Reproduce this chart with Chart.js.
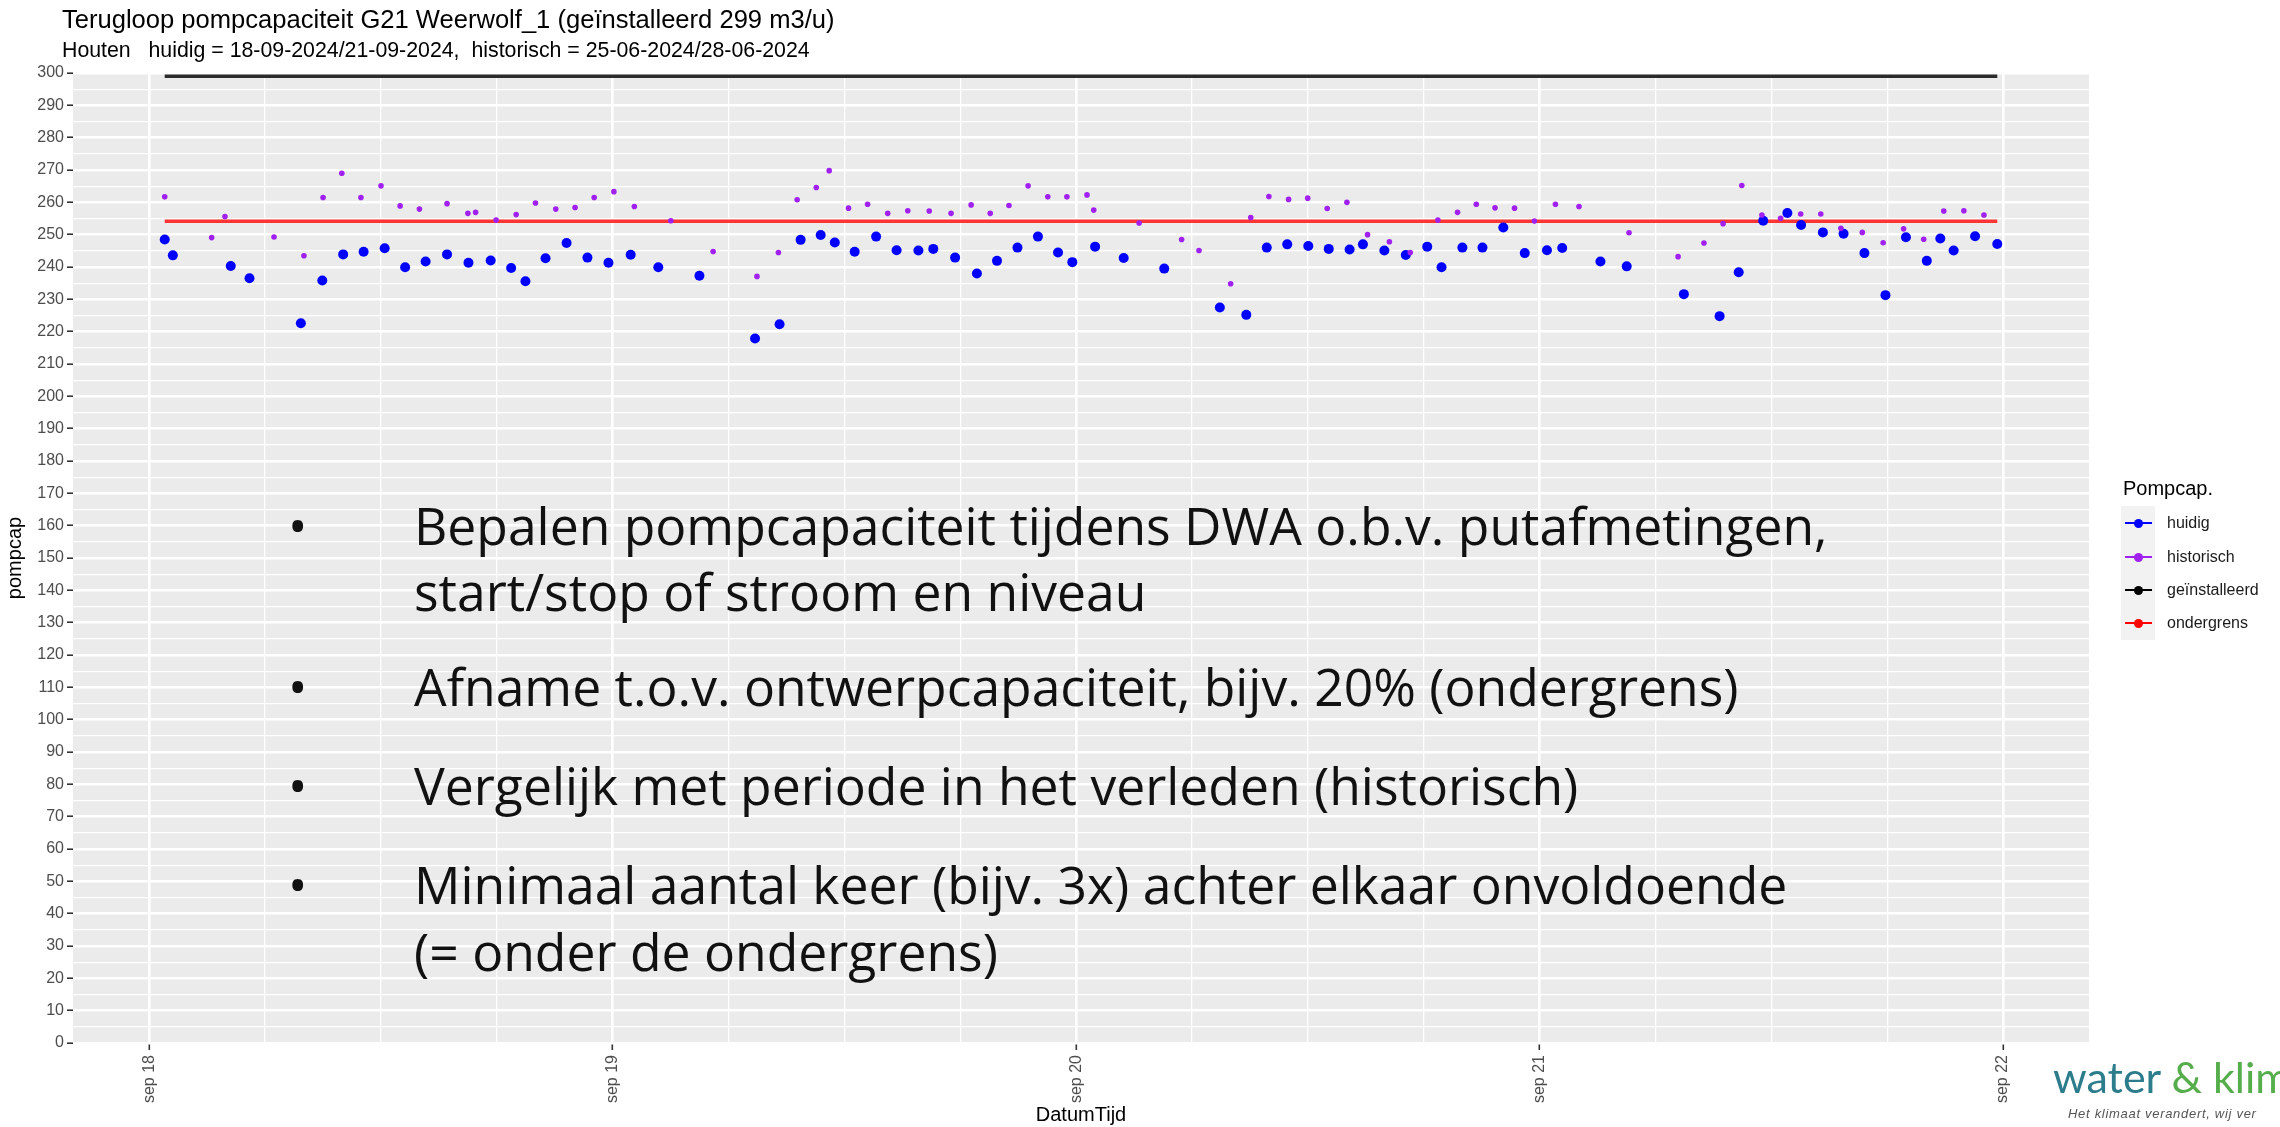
<!DOCTYPE html>
<html lang="nl">
<head>
<meta charset="utf-8">
<title>Terugloop pompcapaciteit G21 Weerwolf_1</title>
<script src="https://cdn.jsdelivr.net/npm/chart.js@4.4.1/dist/chart.umd.min.js"></script>
<style>
    html, body { margin: 0; padding: 0; background: #ffffff; overflow: hidden; }
    #pagina { position: relative; width: 2280px; height: 1127px; overflow: hidden;
              font-family: "Liberation Sans", Arial, sans-serif; }
    #grafiek { position: absolute; left: 0; top: 0; }
    .tekst { position: absolute; white-space: pre; color: #000; }
    #titel { left: 62px; top: 4px; font-size: 24px; line-height: 30px; }
    #ondertitel { left: 62px; top: 38px; font-size: 19px; line-height: 24px; }

    #legenda-titel { left: 2123px; top: 476px; font-size: 20px; line-height: 24px; }
    #legenda-sleutels { position: absolute; left: 2121px; top: 506px; width: 34px; height: 134px; background: #F2F2F2; }
    .sleutel-lijn { position: absolute; left: 2125px; width: 27px; height: 2px; }
    .sleutel-punt { position: absolute; left: 2134px; width: 9px; height: 9px; border-radius: 50%; }
    .legenda-label { left: 2167px; font-size: 16px; line-height: 20px; color: #1a1a1a; }

    #opsomming { position: absolute; left: 0; top: 0; font-family: "Open Sans", sans-serif; font-size: 46px; color: #111; }
    .regel { position: absolute; left: 414px; white-space: pre; line-height: 60px; }
    .bol { position: absolute; left: 288px; line-height: 60px; }

    #logo { left: 2053px; top: 1052px; font-family: Lato, sans-serif; font-size: 43px; line-height: 50px; }
    #logo .water { color: #2C7C8C; }
    #logo .klim { color: #56AD4B; }
    #slogan { left: 2068px; top: 1105px; font-size: 13px; line-height: 18px; font-style: italic;
              letter-spacing: 0.7px; color: #555; }
</style>
</head>
<body>
<div id="pagina">
    <canvas id="grafiek" width="2280" height="1127"></canvas>

    <div id="titel" class="tekst">Terugloop pompcapaciteit G21 Weerwolf_1 (geïnstalleerd 299 m3/u)</div>
    <div id="ondertitel" class="tekst">Houten   huidig = 18-09-2024/21-09-2024,  historisch = 25-06-2024/28-06-2024</div>

    <div id="legenda-titel" class="tekst">Pompcap.</div>
    <div id="legenda-sleutels"></div>
    <div id="legenda"></div>

    <div id="opsomming">
        <div class="bol" style="top:495px">•</div>
        <div class="regel" style="top:495px">Bepalen pompcapaciteit tijdens DWA o.b.v. putafmetingen,</div>
        <div class="regel" style="top:561px">start/stop of stroom en niveau</div>
        <div class="bol" style="top:656px">•</div>
        <div class="regel" style="top:656px">Afname t.o.v. ontwerpcapaciteit, bijv. 20% (ondergrens)</div>
        <div class="bol" style="top:755px">•</div>
        <div class="regel" style="top:755px">Vergelijk met periode in het verleden (historisch)</div>
        <div class="bol" style="top:854px">•</div>
        <div class="regel" style="top:854px">Minimaal aantal keer (bijv. 3x) achter elkaar onvoldoende</div>
        <div class="regel" style="top:921px">(= onder de ondergrens)</div>
    </div>

    <div id="logo" class="tekst"><span class="water">water</span> <span class="klim">&amp; klim</span></div>
    <div id="slogan" class="tekst">Het klimaat verandert, wij ver</div>
</div>

<script>
// uren na 18-09-2024 00:00
const huidigUren = [0.80, 1.22, 4.22, 5.19, 7.85, 8.96, 10.04, 11.10, 12.19, 13.25, 14.31, 15.42, 16.53, 17.68,
    18.74, 19.48, 20.52, 21.61, 22.69, 23.78, 24.93, 26.36, 28.49, 31.37, 32.64, 33.73, 34.77, 35.50,
    36.53, 37.64, 38.70, 39.83, 40.60, 41.73, 42.86, 43.90, 44.96, 46.02, 47.06, 47.80, 48.98, 50.46,
    52.56, 55.44, 56.81, 57.87, 58.93, 60.02, 61.08, 62.16, 62.85, 63.96, 65.07, 66.18, 66.92, 68.00,
    69.04, 70.12, 71.23, 72.38, 73.17, 75.15, 76.51, 79.47, 81.32, 82.31, 83.58, 84.83, 85.54, 86.67,
    87.74, 88.82, 89.91, 90.97, 92.05, 92.75, 93.44, 94.55, 95.70];
const huidigWaarden = [248.5, 243.6, 240.3, 236.5, 222.6, 235.8, 243.9, 244.7, 245.8, 239.9, 241.7, 243.9, 241.3, 242.0,
    239.7, 235.6, 242.7, 247.4, 242.9, 241.3, 243.8, 239.9, 237.3, 217.9, 222.3, 248.4, 249.9, 247.6,
    244.7, 249.4, 245.2, 245.1, 245.6, 242.9, 238.0, 241.9, 246.0, 249.4, 244.5, 241.5, 246.3, 242.8,
    239.5, 227.5, 225.2, 246.0, 247.0, 246.5, 245.6, 245.4, 247.0, 245.1, 243.7, 246.3, 239.9, 246.0,
    246.0, 252.2, 244.3, 245.2, 245.9, 241.7, 240.2, 231.6, 224.8, 238.4, 254.3, 256.7, 253.0, 250.7,
    250.3, 244.3, 231.3, 249.2, 241.9, 248.8, 245.1, 249.5, 247.1];

const historischUren = [0.80, 3.23, 3.92, 6.46, 8.01, 9.00, 9.97, 10.96, 12.00, 12.99, 13.99, 15.42, 16.50, 16.90,
    17.96, 19.00, 20.00, 21.05, 22.05, 23.04, 24.06, 25.12, 27.01, 29.20, 31.47, 32.58, 33.55, 34.54,
    35.21, 36.21, 37.20, 38.24, 39.28, 40.39, 41.52, 42.56, 43.55, 44.52, 45.51, 46.53, 47.52, 48.56,
    48.91, 51.26, 53.46, 54.36, 56.00, 57.04, 57.98, 59.00, 59.99, 61.00, 62.02, 63.09, 64.22, 65.30,
    66.73, 67.75, 68.72, 69.69, 70.70, 71.73, 72.82, 74.04, 76.63, 79.17, 80.51, 81.50, 82.47, 83.51,
    84.48, 85.52, 86.56, 87.60, 88.71, 89.79, 90.85, 91.89, 92.93, 93.97, 95.01];
const historischWaarden = [261.7, 249.1, 255.6, 249.3, 243.5, 261.5, 269.0, 261.5, 265.1, 258.9, 257.9, 259.6, 256.6, 256.9,
    254.5, 256.2, 259.8, 257.9, 258.4, 261.5, 263.3, 258.7, 254.3, 244.8, 237.1, 244.5, 260.8, 264.6,
    269.8, 258.2, 259.4, 256.6, 257.4, 257.3, 256.6, 259.2, 256.6, 259.0, 265.1, 261.7, 261.7, 262.3,
    257.6, 253.6, 248.5, 245.1, 234.8, 255.3, 261.8, 260.9, 261.3, 258.1, 260.0, 250.0, 247.8, 244.5,
    254.5, 256.9, 259.4, 258.3, 258.2, 254.2, 259.4, 258.7, 250.6, 243.2, 247.4, 253.4, 265.2, 256.1,
    255.1, 256.4, 256.4, 252.0, 250.7, 247.5, 251.8, 248.6, 257.3, 257.4, 256.1];

// begin en eind van de periode, voor de horizontale lijnen
const lijnUren = [0.80, 95.70];
const geinstalleerd = 299;
const ondergrens = 254.15;

const dagLabels = ['sep 18', 'sep 19', 'sep 20', 'sep 21', 'sep 22'];
const legendaLabels = ['huidig', 'historisch', 'geïnstalleerd', 'ondergrens'];
const kleuren = ['#0000FF', '#A020F0', '#000000', '#FF0000'];

Chart.defaults.font.family = '"Liberation Sans", Arial, sans-serif';

/**
 * Grijze achtergrond van het paneel, zoals ggplot
 */
const paneelAchtergrond = {
    id: 'paneelAchtergrond',
    beforeDraw(chart) {
        const { ctx, chartArea } = chart;
        ctx.save();
        ctx.fillStyle = '#EBEBEB';
        ctx.fillRect(chartArea.left, chartArea.top, chartArea.right - chartArea.left, chartArea.bottom - chartArea.top);
        ctx.restore();
    }
};

function punten(uren, waarden) {
    return uren.map((u, i) => ({ x: u, y: waarden[i] }));
}

function isDag(ctx) {
    return ctx.tick && Math.abs(ctx.tick.value % 24) < 0.001;
}

function isTiental(ctx) {
    return ctx.tick && ctx.tick.value % 10 === 0;
}

new Chart(document.getElementById('grafiek'), {
    type: 'scatter',
    data: {
        datasets: [
            {
                label: 'historisch',
                data: punten(historischUren, historischWaarden),
                pointRadius: 2.8,
                pointBorderWidth: 0,
                pointBackgroundColor: kleuren[1],
                order: 0
            },
            {
                label: 'huidig',
                data: punten(huidigUren, huidigWaarden),
                pointRadius: 5,
                pointBorderWidth: 0,
                pointBackgroundColor: kleuren[0],
                order: 1
            },
            {
                label: 'ondergrens',
                data: lijnUren.map(u => ({ x: u, y: ondergrens })),
                showLine: true,
                borderColor: 'rgba(255, 20, 20, 0.85)',
                borderWidth: 3.5,
                pointRadius: 0,
                order: 2
            },
            {
                label: 'geïnstalleerd',
                data: lijnUren.map(u => ({ x: u, y: geinstalleerd })),
                showLine: true,
                borderColor: '#2b2b2b',
                borderWidth: 3.5,
                pointRadius: 0,
                order: 3
            }
        ]
    },
    options: {
        responsive: false,
        animation: false,
        events: [],
        layout: { padding: { top: 73, right: 191, bottom: 0, left: 0 } },
        plugins: {
            legend: { display: false },
            tooltip: { enabled: false }
        },
        scales: {
            x: {
                type: 'linear',
                min: -3.95,
                max: 100.45,
                afterBuildTicks: function (schaal) {
                    schaal.ticks = schaal.ticks.filter(t => Math.abs(t.value % 6) < 0.001);
                },
                afterFit: function (schaal) {
                    schaal.height = 84;
                },
                ticks: {
                    stepSize: 6,
                    autoSkip: false,
                    minRotation: 90,
                    maxRotation: 90,
                    padding: 5,
                    color: '#4D4D4D',
                    font: { size: 16 },
                    callback: function (waarde) {
                        return waarde % 24 === 0 ? dagLabels[waarde / 24] : '';
                    }
                },
                grid: {
                    color: '#FFFFFF',
                    lineWidth: ctx => isDag(ctx) ? 2.6 : 1.3,
                    tickColor: ctx => isDag(ctx) ? '#333333' : 'rgba(0,0,0,0)',
                    tickLength: 7,
                    tickWidth: 1.6
                },
                border: { display: false },
                title: {
                    display: true,
                    text: 'DatumTijd',
                    color: '#000000',
                    font: { size: 20 },
                    padding: { top: 0, bottom: 0 }
                }
            },
            y: {
                min: 0,
                max: 300,
                afterFit: function (schaal) {
                    schaal.width = 73;
                },
                ticks: {
                    stepSize: 5,
                    autoSkip: false,
                    padding: 3,
                    color: '#4D4D4D',
                    font: { size: 16 },
                    callback: function (waarde) {
                        return waarde % 10 === 0 ? waarde : '';
                    }
                },
                grid: {
                    color: '#FFFFFF',
                    lineWidth: ctx => isTiental(ctx) ? 2.4 : 1.2,
                    tickColor: ctx => isTiental(ctx) ? '#333333' : 'rgba(0,0,0,0)',
                    tickLength: 6,
                    tickWidth: 1.6
                },
                border: { display: false },
                title: {
                    display: true,
                    text: 'pompcap',
                    color: '#000000',
                    font: { size: 20 },
                    padding: { top: 3, bottom: 0 }
                }
            }
        }
    },
    plugins: [paneelAchtergrond]
});

/**
 * Legenda rechts van het paneel
 */
function tekenLegenda() {
    const legenda = document.getElementById('legenda');
    const rijen = [523, 557, 590, 623];
    legendaLabels.forEach((label, i) => {
        const lijn = document.createElement('div');
        lijn.className = 'sleutel-lijn';
        lijn.style.top = (rijen[i] - 1) + 'px';
        lijn.style.background = kleuren[i];
        legenda.appendChild(lijn);

        const punt = document.createElement('div');
        punt.className = 'sleutel-punt';
        punt.style.top = (rijen[i] - 4.5) + 'px';
        punt.style.background = kleuren[i];
        legenda.appendChild(punt);

        const tekst = document.createElement('div');
        tekst.className = 'tekst legenda-label';
        tekst.style.top = (rijen[i] - 10) + 'px';
        tekst.textContent = label;
        legenda.appendChild(tekst);
    });
}

/**
 * Schaalt de lettergrootte zodat de tekst de gewenste breedte krijgt
 */
function pasBreedteAan(el, meetEl, doelBreedte) {
    const grootte = parseFloat(getComputedStyle(el).fontSize);
    const breedte = meetEl.getBoundingClientRect().width;
    if (breedte > 0) {
        el.style.fontSize = (grootte * doelBreedte / breedte) + 'px';
    }
}

tekenLegenda();
pasBreedteAan(document.getElementById('titel'), document.getElementById('titel'), 773);
pasBreedteAan(document.getElementById('ondertitel'), document.getElementById('ondertitel'), 748);
pasBreedteAan(document.getElementById('opsomming'), document.querySelector('#opsomming .regel'), 1414);
</script>
</body>
</html>
